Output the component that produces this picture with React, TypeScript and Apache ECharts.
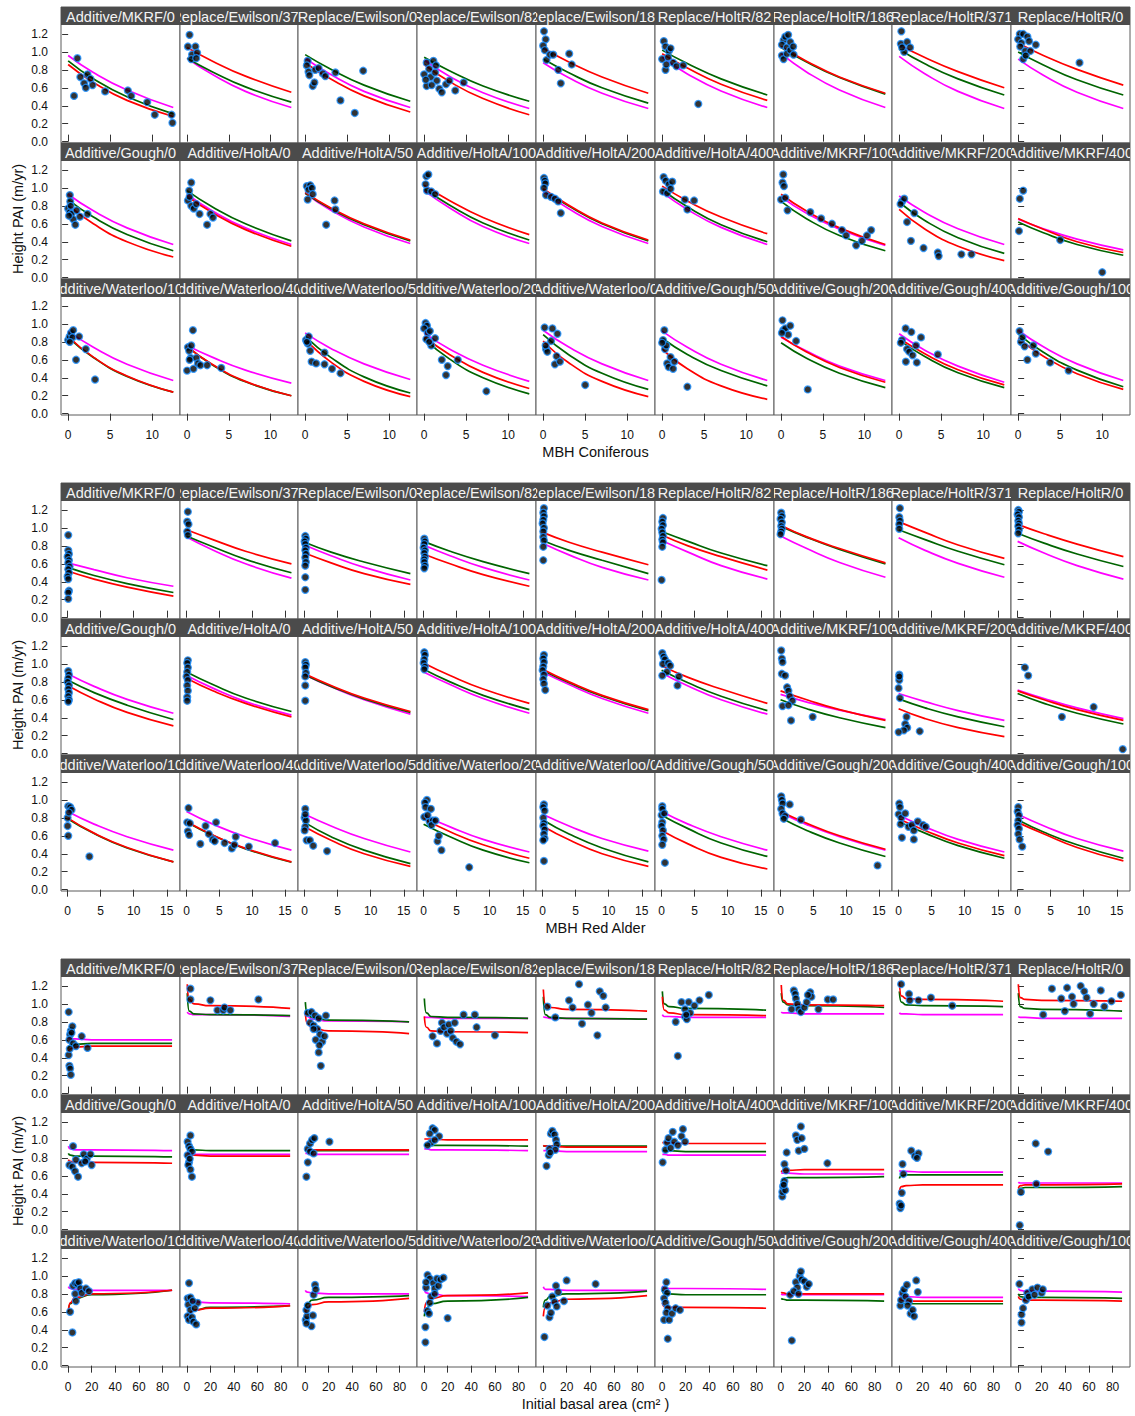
import React, { useEffect, useRef } from "react";
import * as echarts from "echarts";

// ---------------- DATA ----------------
const STRIP_LABELS = [
  "Additive/MKRF/0", "Replace/Ewilson/371", "Replace/Ewilson/0", "Replace/Ewilson/82", "Replace/Ewilson/186",
  "Replace/HoltR/82", "Replace/HoltR/186", "Replace/HoltR/371", "Replace/HoltR/0",
  "Additive/Gough/0", "Additive/HoltA/0", "Additive/HoltA/50", "Additive/HoltA/100", "Additive/HoltA/200",
  "Additive/HoltA/400", "Additive/MKRF/100", "Additive/MKRF/200", "Additive/MKRF/400",
  "Additive/Waterloo/100", "Additive/Waterloo/400", "Additive/Waterloo/50", "Additive/Waterloo/200",
  "Additive/Waterloo/0", "Additive/Gough/50", "Additive/Gough/200", "Additive/Gough/400", "Additive/Gough/100",
];

const X_TITLES = ["MBH Coniferous", "MBH Red Alder", "Initial basal area (cm\u00B2 )"];
const Y_TITLE = "Height PAI (m/yr)";
const Y_TICKS = [0, 0.2, 0.4, 0.6, 0.8, 1.0, 1.2];
const X_TICKS_CONIF = [0, 5, 10];
const X_TICKS_ALDER = [0, 5, 10, 15];
const X_TICKS_BASAL = [0, 20, 40, 60, 80];

const CURVE_X_CONIF = [0, 3, 7, 12.5];
const CURVE_X_ALDER = [0, 4, 9, 16];
const CURVE_X_BASAL = [0.3, 2, 6, 20, 88];

// --- MBH Coniferous ---
const POINTS_CONIF = [
  [[0.7,0.51],[1.1,0.93],[1.45,0.72],[1.9,0.65],[2.1,0.6],[2.3,0.75],[2.65,0.7],[2.9,0.63],[4.4,0.56],[7.1,0.57],[7.5,0.51],[9.4,0.44],[10.3,0.3],[12.3,0.3],[12.4,0.21]],
  [[0.3,1.19],[0.1,1.06],[0.6,0.97],[0.5,0.92],[1.0,1.06],[1.2,0.99],[1.1,0.93]],
  [[0.3,0.9],[0.2,0.85],[0.4,0.78],[0.5,0.74],[0.9,0.62],[1.1,0.66],[1.2,0.8],[1.6,0.82],[2.1,0.76],[2.4,0.73],[3.6,0.77],[4.2,0.46],[5.9,0.32],[6.9,0.79]],
  [[0.3,0.88],[0.0,0.75],[0.3,0.62],[0.6,0.81],[0.8,0.72],[1.1,0.9],[1.3,0.77],[1.4,0.85],[1.5,0.68],[1.8,0.59],[2.1,0.55],[2.6,0.64],[3.0,0.68],[3.7,0.57],[4.7,0.66],[0.2,0.69],[0.9,0.63]],
  [[0.1,1.23],[0.3,1.14],[0.0,1.07],[0.2,1.02],[0.4,0.91],[0.8,0.97],[1.2,0.97],[1.8,0.8],[2.1,0.65],[3.1,0.98],[3.4,0.86]],
  [[0.2,1.12],[0.4,1.06],[0.8,1.01],[1.0,1.04],[0.0,0.92],[0.4,0.8],[0.7,0.94],[1.3,0.88],[1.7,0.84],[2.5,0.85],[4.3,0.42],[0.5,0.86]],
  [[0.3,1.13],[0.5,1.17],[0.85,1.19],[0.1,1.08],[0.7,1.05],[1.1,1.11],[0.1,0.96],[0.3,0.92],[0.7,0.98],[1.1,1.02],[1.45,1.06],[1.5,0.97]],
  [[0.26,1.23],[0.2,1.09],[0.6,1.0],[0.95,1.11],[1.3,1.05],[0.35,1.05]],
  [[0.2,1.2],[0.6,1.2],[1.1,1.17],[0.0,1.14],[0.4,1.1],[1.3,1.12],[0.25,1.06],[0.85,1.01],[1.45,1.01],[2.1,1.08],[0.6,0.92],[0.9,0.96],[7.3,0.88]],
  [[0.2,0.92],[0.25,0.85],[0.0,0.77],[0.2,0.73],[0.4,0.71],[0.6,0.65],[0.85,0.59],[1.0,0.75],[1.4,0.68],[2.3,0.71],[0.3,0.8],[0.1,0.69]],
  [[0.5,1.06],[0.25,0.97],[0.1,0.86],[0.5,0.8],[0.8,0.77],[1.1,0.82],[1.5,0.71],[2.4,0.59],[2.8,0.71],[3.1,0.67],[0.3,0.9]],
  [[0.2,1.02],[0.6,1.03],[0.4,0.98],[0.8,1.0],[0.3,0.87],[0.9,0.93],[2.5,0.59],[3.5,0.86],[3.6,0.76]],
  [[0.26,1.13],[0.5,1.15],[0.17,1.04],[0.34,0.97],[0.85,0.96],[1.3,0.93]],
  [[0.1,1.11],[0.2,1.08],[0.26,1.05],[0.1,1.0],[0.34,0.92],[0.94,0.9],[1.4,0.88],[1.8,0.85],[2.1,0.72]],
  [[0.17,1.12],[0.43,1.08],[0.8,1.04],[1.2,1.07],[0.1,0.96],[0.6,0.94],[1.0,0.99],[2.7,0.87],[3.0,0.76],[3.8,0.86]],
  [[0.26,1.15],[0.17,1.06],[0.34,1.02],[0.0,0.87],[0.5,0.89],[0.77,0.75],[3.5,0.73],[4.8,0.66],[6.1,0.6],[7.3,0.53],[7.8,0.47],[9.0,0.36],[9.7,0.41],[10.3,0.47],[10.8,0.53]],
  [[0.34,0.85],[0.6,0.88],[0.17,0.82],[0.94,0.62],[1.4,0.41],[1.8,0.72],[2.9,0.33],[4.6,0.28],[4.7,0.24],[7.4,0.26],[8.6,0.26]],
  [[0.2,0.88],[0.6,0.97],[0.1,0.52],[5.0,0.42],[10.0,0.06]],
  [[0.0,0.82],[0.17,0.86],[0.34,0.9],[0.6,0.93],[0.5,0.85],[0.94,0.6],[1.3,0.86],[2.1,0.72],[3.2,0.38],[0.2,0.8]],
  [[0.7,0.93],[0.1,0.74],[0.25,0.7],[0.43,0.62],[0.0,0.48],[0.77,0.5],[1.1,0.62],[1.3,0.56],[1.6,0.54],[2.4,0.54],[4.1,0.51],[0.5,0.76],[0.3,0.6]],
  [[0.1,0.82],[0.43,0.86],[0.34,0.78],[0.6,0.7],[0.77,0.58],[1.3,0.56],[2.3,0.68],[2.3,0.55],[3.2,0.5],[4.2,0.45],[0.2,0.8]],
  [[0.17,1.01],[0.34,0.98],[0.0,0.95],[0.43,0.9],[0.68,0.92],[0.26,0.83],[0.85,0.76],[1.3,0.84],[2.1,0.6],[2.6,0.43],[2.8,0.53],[4.0,0.6],[7.4,0.25],[0.6,0.8]],
  [[0.17,0.96],[0.34,0.72],[0.5,0.69],[0.94,0.81],[1.1,0.95],[1.4,0.55],[1.6,0.64],[1.7,0.89],[2.0,0.58],[5.0,0.32],[0.3,0.76]],
  [[0.26,0.93],[0.1,0.82],[0.34,0.72],[0.6,0.56],[0.77,0.52],[1.0,0.63],[1.3,0.5],[1.45,0.58],[3.0,0.3],[0.5,0.76],[0.0,0.79]],
  [[0.17,1.04],[0.26,0.93],[0.5,0.95],[1.1,0.98],[0.85,0.88],[1.8,0.81],[3.2,0.27],[0.1,0.9]],
  [[0.77,0.95],[1.45,0.91],[0.34,0.82],[0.94,0.72],[1.2,0.69],[1.6,0.65],[2.1,0.57],[0.8,0.58],[2.0,0.76],[2.6,0.85],[4.6,0.66],[0.2,0.79]],
  [[0.17,0.92],[0.34,0.8],[0.77,0.75],[1.1,0.6],[1.8,0.76],[2.1,0.67],[3.8,0.57],[6.0,0.48],[0.5,0.85]],
];
const RED_CONIF = [
  [0.86,0.66,0.46,0.28],[1.05,0.90,0.73,0.55],[0.88,0.70,0.51,0.33],[0.86,0.67,0.48,0.30],[1.04,0.89,0.72,0.54],
  [0.98,0.82,0.64,0.46],[1.06,0.90,0.72,0.54],[1.08,0.94,0.78,0.60],[1.10,0.96,0.805,0.63],
  [0.81,0.60,0.40,0.23],[0.91,0.725,0.535,0.35],[0.95,0.78,0.60,0.42],[1.03,0.86,0.67,0.48],[0.99,0.81,0.61,0.42],
  [1.02,0.855,0.675,0.49],[0.93,0.745,0.555,0.37],[0.76,0.545,0.35,0.19],[0.66,0.54,0.40,0.28],
  [0.86,0.63,0.42,0.24],[0.75,0.55,0.36,0.20],[0.83,0.58,0.36,0.19],[0.86,0.66,0.46,0.28],[0.81,0.57,0.36,0.19],
  [0.72,0.50,0.31,0.16],[0.86,0.69,0.515,0.35],[0.84,0.67,0.49,0.32],[0.84,0.64,0.445,0.27],
];
const GREEN_CONIF = [
  [0.90,0.70,0.50,0.31],[0.93,0.78,0.61,0.44],[0.97,0.81,0.63,0.45],[0.94,0.79,0.62,0.45],[0.92,0.77,0.60,0.43],
  [1.02,0.87,0.70,0.52],[1.05,0.89,0.715,0.53],[1.03,0.87,0.70,0.52],[1.00,0.855,0.69,0.52],
  [0.87,0.675,0.48,0.30],[0.97,0.79,0.60,0.41],[0.94,0.77,0.59,0.41],[0.99,0.81,0.61,0.42],[0.98,0.80,0.60,0.41],
  [0.98,0.79,0.59,0.40],[0.85,0.66,0.47,0.30],[0.84,0.64,0.445,0.27],[0.62,0.50,0.37,0.25],
  [0.85,0.625,0.415,0.24],[0.75,0.545,0.355,0.20],[0.86,0.63,0.41,0.23],[0.84,0.61,0.40,0.22],[0.88,0.66,0.45,0.27],
  [0.84,0.66,0.48,0.31],[0.79,0.62,0.45,0.29],[0.82,0.64,0.455,0.29],[0.89,0.685,0.485,0.30],
];
const MAGENTA_CONIF = [
  [0.96,0.77,0.575,0.38],[0.93,0.75,0.56,0.38],[0.93,0.75,0.56,0.38],[0.91,0.73,0.545,0.37],[0.88,0.715,0.54,0.37],
  [0.94,0.755,0.565,0.38],[0.98,0.78,0.576,0.38],[0.95,0.76,0.56,0.37],[0.92,0.74,0.55,0.37],
  [0.93,0.745,0.555,0.37],[0.93,0.745,0.555,0.37],[0.94,0.755,0.565,0.38],[0.97,0.78,0.57,0.38],[0.96,0.77,0.57,0.38],
  [0.95,0.76,0.56,0.37],[0.90,0.72,0.54,0.36],[0.91,0.73,0.545,0.37],[0.65,0.545,0.43,0.31],
  [0.92,0.74,0.55,0.37],[0.76,0.63,0.485,0.34],[0.90,0.73,0.555,0.38],[0.90,0.72,0.54,0.36],[0.93,0.745,0.555,0.37],
  [0.92,0.74,0.55,0.37],[0.85,0.70,0.53,0.37],[0.89,0.71,0.53,0.35],[0.93,0.745,0.555,0.37],
];

// --- MBH Red Alder ---
const POINTS_ALDER = [
  [[0.1,0.92],[0.1,0.75],[0.2,0.71],[0.0,0.68],[0.2,0.64],[0.1,0.61],[0.3,0.57],[0.1,0.54],[0.2,0.5],[0.0,0.46],[0.1,0.43],[0.2,0.3],[0.1,0.28],[0.1,0.21]],
  [[0.2,1.18],[0.1,1.07],[0.3,1.04],[0.1,0.96],[0.2,0.92]],
  [[0.1,0.91],[0.2,0.88],[0.0,0.85],[0.1,0.82],[0.2,0.78],[0.1,0.75],[0.2,0.71],[0.1,0.67],[0.2,0.62],[0.1,0.58],[0.1,0.45],[0.1,0.31]],
  [[0.1,0.88],[0.2,0.85],[0.1,0.82],[0.0,0.78],[0.2,0.75],[0.1,0.72],[0.2,0.68],[0.1,0.65],[0.1,0.62],[0.2,0.58],[0.1,0.55]],
  [[0.2,1.22],[0.1,1.17],[0.2,1.13],[0.1,1.09],[0.0,1.05],[0.2,1.0],[0.1,0.96],[0.1,0.9],[0.2,0.86],[0.1,0.79],[0.1,0.64]],
  [[0.2,1.11],[0.1,1.07],[0.2,1.03],[0.0,0.99],[0.1,0.95],[0.2,0.91],[0.1,0.87],[0.2,0.84],[0.1,0.79],[0.0,0.42]],
  [[0.1,1.17],[0.2,1.13],[0.0,1.1],[0.2,1.06],[0.1,1.02],[0.2,0.99],[0.1,0.96],[0.0,0.93]],
  [[0.2,1.22],[0.1,1.12],[0.2,1.08],[0.1,1.04],[0.1,0.99]],
  [[0.1,1.2],[0.2,1.18],[0.0,1.15],[0.2,1.12],[0.1,1.08],[0.2,1.05],[0.1,1.02],[0.2,0.98],[0.1,0.94]],
  [[0.1,0.92],[0.2,0.88],[0.1,0.84],[0.0,0.8],[0.2,0.76],[0.1,0.72],[0.2,0.68],[0.1,0.64],[0.2,0.6],[0.1,0.58]],
  [[0.2,1.04],[0.1,1.01],[0.2,0.96],[0.1,0.91],[0.0,0.86],[0.2,0.82],[0.1,0.76],[0.2,0.7],[0.1,0.63],[0.1,0.59]],
  [[0.1,1.02],[0.2,0.99],[0.1,0.96],[0.2,0.9],[0.1,0.86],[0.1,0.76],[0.1,0.59]],
  [[0.1,1.13],[0.2,1.1],[0.1,1.05],[0.0,1.01],[0.2,0.97],[0.1,0.94]],
  [[0.2,1.1],[0.1,1.06],[0.2,1.02],[0.1,0.97],[0.0,0.93],[0.2,0.88],[0.1,0.83],[0.2,0.78],[0.4,0.71]],
  [[0.1,1.12],[0.3,1.08],[0.5,1.05],[0.2,1.0],[1.0,1.01],[1.3,0.98],[0.8,0.91],[0.1,0.87],[2.6,0.86],[2.4,0.76]],
  [[0.1,1.15],[0.2,1.06],[0.3,1.02],[0.2,0.89],[0.7,0.87],[1.0,0.74],[1.2,0.7],[1.4,0.64],[1.8,0.59],[0.3,0.53],[1.2,0.54],[1.6,0.37],[4.9,0.41]],
  [[0.1,0.88],[0.1,0.82],[0.0,0.73],[0.2,0.62],[1.2,0.41],[1.0,0.33],[1.3,0.29],[0.8,0.26],[0.0,0.24],[3.2,0.25],[0.1,0.86]],
  [[1.1,0.96],[1.6,0.87],[6.7,0.41],[11.5,0.52],[15.9,0.05]],
  [[0.1,0.93],[0.4,0.92],[0.6,0.89],[0.0,0.8],[0.2,0.86],[0.0,0.71],[0.1,0.6],[3.3,0.37]],
  [[0.3,0.91],[0.1,0.75],[0.5,0.74],[0.2,0.65],[0.4,0.61],[2.1,0.51],[2.9,0.71],[3.4,0.62],[4.0,0.56],[4.3,0.54],[4.5,0.75],[5.8,0.52],[6.9,0.46],[7.3,0.5],[7.5,0.59],[9.5,0.48],[13.5,0.52]],
  [[0.1,0.9],[0.0,0.8],[0.2,0.77],[0.1,0.7],[0.0,0.66],[0.3,0.55],[0.8,0.55],[1.3,0.49],[3.4,0.43],[0.1,0.84]],
  [[0.5,1.0],[0.2,0.97],[0.3,0.92],[1.1,0.9],[0.1,0.81],[0.9,0.76],[1.4,0.77],[1.2,0.72],[2.1,0.54],[2.3,0.6],[2.7,0.44],[1.8,0.77],[6.9,0.25],[0.6,0.83]],
  [[0.2,0.95],[0.1,0.92],[0.3,0.88],[0.1,0.8],[0.2,0.74],[0.1,0.71],[0.3,0.67],[0.2,0.62],[0.3,0.57],[0.1,0.55],[0.2,0.32]],
  [[0.1,0.93],[0.1,0.9],[0.0,0.83],[0.1,0.75],[0.0,0.71],[0.2,0.66],[0.1,0.6],[0.3,0.56],[0.1,0.5],[0.5,0.3],[0.4,0.85]],
  [[0.1,1.04],[0.2,1.0],[0.3,0.96],[0.1,0.9],[0.3,0.85],[0.7,0.82],[0.5,0.79],[1.4,0.95],[3.1,0.78],[14.8,0.27]],
  [[0.1,0.96],[0.2,0.92],[0.0,0.84],[0.4,0.8],[1.0,0.85],[0.3,0.73],[0.5,0.58],[1.5,0.7],[2.0,0.72],[2.3,0.56],[2.9,0.76],[3.7,0.72],[4.1,0.7],[2.3,0.66]],
  [[0.1,0.92],[0.0,0.87],[0.2,0.83],[0.1,0.77],[0.0,0.72],[0.2,0.68],[0.1,0.62],[0.3,0.56],[0.7,0.48]],
];
const RED_ALDER = [
  [0.52,0.43,0.34,0.24],[0.98,0.87,0.74,0.60],[0.72,0.61,0.49,0.37],[0.71,0.60,0.48,0.35],[0.95,0.84,0.73,0.59],
  [0.92,0.80,0.68,0.53],[1.03,0.90,0.77,0.61],[1.07,0.95,0.81,0.66],[1.04,0.935,0.82,0.68],
  [0.76,0.61,0.46,0.31],[0.84,0.70,0.56,0.41],[0.89,0.76,0.62,0.47],[1.01,0.87,0.72,0.56],[0.94,0.80,0.65,0.49],
  [0.98,0.85,0.72,0.56],[0.70,0.60,0.49,0.37],[0.50,0.39,0.29,0.19],[0.70,0.60,0.49,0.37],
  [0.80,0.63,0.47,0.31],[0.76,0.61,0.46,0.31],[0.70,0.55,0.40,0.26],[0.79,0.645,0.50,0.35],[0.71,0.555,0.40,0.26],
  [0.66,0.51,0.36,0.23],[0.87,0.74,0.60,0.45],[0.79,0.66,0.52,0.38],[0.75,0.62,0.47,0.32],
];
const GREEN_ALDER = [
  [0.56,0.47,0.38,0.28],[0.91,0.79,0.65,0.50],[0.84,0.73,0.62,0.49],[0.85,0.74,0.625,0.49],[0.86,0.75,0.64,0.49],
  [0.96,0.85,0.72,0.58],[1.02,0.895,0.76,0.60],[0.98,0.87,0.74,0.59],[0.94,0.83,0.71,0.57],
  [0.82,0.68,0.54,0.38],[0.91,0.77,0.62,0.47],[0.88,0.75,0.61,0.46],[0.94,0.80,0.65,0.49],[0.93,0.79,0.64,0.48],
  [0.93,0.79,0.64,0.48],[0.60,0.50,0.40,0.29],[0.61,0.51,0.41,0.30],[0.67,0.56,0.45,0.33],
  [0.79,0.625,0.465,0.31],[0.755,0.605,0.455,0.305],[0.75,0.59,0.44,0.29],[0.73,0.59,0.44,0.30],[0.78,0.62,0.465,0.31],
  [0.83,0.68,0.52,0.37],[0.80,0.66,0.52,0.37],[0.76,0.63,0.49,0.35],[0.78,0.64,0.50,0.35],
];
const MAGENTA_ALDER = [
  [0.61,0.535,0.445,0.35],[0.90,0.755,0.60,0.44],[0.81,0.69,0.56,0.42],[0.81,0.69,0.56,0.42],[0.83,0.70,0.56,0.42],
  [0.86,0.73,0.58,0.43],[0.91,0.77,0.615,0.45],[0.89,0.75,0.605,0.45],[0.85,0.72,0.58,0.43],
  [0.89,0.75,0.605,0.45],[0.87,0.73,0.58,0.43],[0.88,0.745,0.60,0.44],[0.91,0.77,0.615,0.45],[0.91,0.77,0.615,0.45],
  [0.90,0.755,0.60,0.44],[0.66,0.575,0.485,0.38],[0.67,0.58,0.48,0.37],[0.71,0.615,0.51,0.39],
  [0.87,0.73,0.59,0.44],[0.87,0.73,0.59,0.44],[0.84,0.71,0.57,0.42],[0.83,0.70,0.56,0.42],[0.84,0.71,0.57,0.43],
  [0.87,0.73,0.59,0.44],[0.86,0.725,0.59,0.44],[0.83,0.70,0.56,0.42],[0.84,0.71,0.57,0.43],
];

// --- Initial basal area ---
const POINTS_BASAL = [
  [[0.6,0.91],[2.4,0.7],[3.7,0.75],[1.8,0.66],[1.2,0.6],[0.6,0.43],[1.2,0.31],[1.8,0.28],[2.4,0.21],[11.6,0.64],[16.5,0.51],[4.3,0.56],[6.7,0.53],[3.0,0.68],[1.5,0.5]],
  [[3.0,1.17],[3.0,1.05],[20,1.04],[26,0.93],[31,0.93],[32,0.96],[37,0.93],[61,1.05]],
  [[2.4,0.9],[5.5,0.91],[8.5,0.87],[11.6,0.84],[4.3,0.79],[7.3,0.76],[10.4,0.72],[12.8,0.66],[9.1,0.6],[14.6,0.58],[16.5,0.64],[12.2,0.54],[11.6,0.46],[13.4,0.31],[17.7,0.87],[7.3,0.72]],
  [[7.3,0.64],[11,0.56],[14,0.7],[15.2,0.79],[17,0.74],[19.5,0.67],[21,0.77],[22.6,0.7],[24.4,0.62],[26,0.79],[27.4,0.58],[30.5,0.55],[33.5,0.88],[43,0.88],[44.5,0.74],[60,0.65]],
  [[3.7,0.97],[10.4,0.85],[22,1.04],[25,0.96],[30.5,1.22],[33,0.78],[38,0.99],[41,0.9],[46,0.65],[48,1.14],[51,1.09],[53,0.96]],
  [[11.6,0.8],[13.4,0.42],[16.5,1.02],[19.5,0.94],[19.5,0.86],[21,0.83],[22.6,1.02],[23.8,0.9],[27.4,0.98],[31.7,1.04],[39.6,1.1],[20.5,0.88]],
  [[9.1,0.94],[11,1.15],[12.2,1.11],[12.8,1.06],[14,1.0],[15.2,0.94],[17,0.91],[20,0.96],[22,1.02],[25,1.13],[26,1.08],[32,0.94],[40,1.05],[44.5,1.05],[23,1.1]],
  [[1.8,1.22],[8.5,1.11],[9.1,1.04],[16.5,1.04],[27,1.07],[45,0.98]],
  [[21.3,0.88],[28.7,1.17],[36.6,1.06],[39.6,0.92],[41.5,1.18],[45.7,1.08],[47,1.0],[53,1.2],[56,1.14],[58,1.07],[61,0.89],[64,1.0],[70,1.15],[73,0.97],[79,1.03],[87,1.1]],
  [[4.3,0.93],[1.2,0.72],[3.7,0.7],[6,0.65],[8.5,0.59],[6.7,0.78],[11.6,0.74],[13.4,0.84],[15.9,0.79],[19,0.84],[20,0.72],[14.6,0.76]],
  [[0.6,0.98],[3.0,1.05],[1.8,0.93],[3.0,0.9],[4.3,0.87],[0.6,0.83],[1.8,0.75],[1.2,0.72],[3.0,0.67],[4.3,0.59],[2.4,0.79]],
  [[1.2,0.59],[2.4,0.75],[2.4,0.9],[4.3,0.96],[6,1.0],[7.9,1.02],[4.3,0.87],[20.7,0.98],[7.3,0.85]],
  [[7.3,1.13],[9.1,1.11],[4.9,1.07],[12.8,1.04],[6.1,0.97],[3.0,0.94],[9.1,1.0]],
  [[3.0,0.71],[4.9,0.83],[5.5,0.9],[6.7,1.07],[7.9,1.1],[9.8,1.06],[11,1.0],[11.6,0.95],[10.4,0.89],[6.1,0.86]],
  [[0.6,0.75],[3.0,0.89],[4.3,0.97],[5.5,1.02],[9.1,1.09],[10.4,0.98],[13.4,0.94],[16.5,1.04],[17.7,1.12],[19.5,0.98],[7.3,0.91]],
  [[1.2,0.37],[1.2,0.42],[1.8,0.48],[3.0,0.54],[3.0,0.73],[4.3,0.66],[4.9,0.86],[12.8,1.05],[14,1.0],[15.2,0.88],[17,1.15],[17.7,1.02],[20,0.9],[39.6,0.74],[3.7,0.44],[2.4,0.5]],
  [[1.2,0.24],[0.6,0.29],[2.4,0.41],[3.7,0.62],[3.0,0.73],[10.4,0.88],[13.4,0.82],[16.5,0.85],[15.2,0.8],[1.8,0.27]],
  [[1.5,0.05],[2.5,0.42],[15,0.96],[15.5,0.51],[25.5,0.87]],
  [[1.8,0.6],[3.7,0.37],[4.3,0.89],[6.1,0.92],[7.9,0.91],[9.1,0.93],[6.1,0.8],[6.7,0.72],[10.4,0.86],[11.6,0.81],[15.2,0.86],[17.7,0.83]],
  [[1.8,0.92],[0.6,0.75],[3.0,0.76],[1.2,0.68],[3.0,0.62],[0.6,0.55],[1.8,0.51],[4.3,0.54],[5.5,0.49],[7.9,0.46],[9.1,0.7],[6.7,0.64],[4.9,0.72]],
  [[0.6,0.51],[1.8,0.55],[1.2,0.62],[2.4,0.67],[5.5,0.44],[6.7,0.56],[7.3,0.79],[8.5,0.9],[9.1,0.85],[1.2,0.47]],
  [[1.2,0.26],[1.2,0.43],[3.0,0.61],[4.3,0.58],[1.8,0.87],[3.0,1.01],[4.9,0.97],[1.8,0.93],[7.9,0.92],[9.1,0.86],[11,0.97],[12.2,0.89],[14,0.96],[16.5,0.98],[20,0.53],[6.1,0.77],[4.9,0.7],[9.1,0.8]],
  [[1.2,0.32],[3.7,0.67],[5.5,0.54],[6.7,0.59],[7.9,0.77],[9.8,0.71],[11,0.89],[12.8,0.82],[17.7,0.72],[20,0.95],[44.5,0.91],[11.6,0.66]],
  [[3.7,0.93],[2.4,0.85],[4.3,0.81],[1.8,0.75],[3.0,0.7],[4.9,0.64],[3.7,0.59],[1.8,0.51],[6.1,0.51],[8.5,0.58],[11.6,0.64],[4.9,0.3],[15.2,0.62]],
  [[9.3,0.28],[7.9,0.79],[12.8,0.93],[14,0.87],[15.9,1.0],[17,1.05],[17.7,0.96],[20,0.94],[22,0.88],[23.8,0.91],[11,0.83],[15,0.8]],
  [[1.2,0.67],[1.8,0.73],[3.0,0.81],[4.3,0.85],[5.5,0.77],[6.7,0.9],[8.5,0.72],[7.3,0.67],[9.8,0.58],[11.6,0.62],[12.8,0.55],[14.6,0.95],[15.9,0.82]],
  [[1.2,0.91],[3.0,0.48],[3.0,0.57],[4.3,0.64],[6.7,0.73],[7.9,0.81],[9.1,0.77],[12.2,0.85],[14,0.79],[16.5,0.87],[20,0.81],[21,0.85]],
];
const RED_BASAL = [
  [0.47,0.5,0.52,0.53,0.53],[1.22,1.05,1.0,0.98,0.95],[0.9,0.78,0.73,0.7,0.67],[0.86,0.74,0.7,0.69,0.68],[1.16,1.0,0.96,0.94,0.92],
  [1.08,0.93,0.9,0.88,0.87],[1.21,1.04,1.0,0.99,0.98],[1.25,1.09,1.06,1.05,1.03],[1.22,1.07,1.05,1.04,1.03],
  [0.78,0.76,0.75,0.75,0.74],[0.82,0.83,0.83,0.82,0.82],[0.88,0.89,0.89,0.89,0.89],[1.01,1.01,1.01,1.0,1.0],[0.94,0.93,0.93,0.92,0.92],
  [0.97,0.97,0.97,0.96,0.96],[0.64,0.66,0.66,0.67,0.67],[0.42,0.48,0.49,0.5,0.5],[0.46,0.49,0.5,0.5,0.51],
  [0.61,0.7,0.76,0.8,0.84],[0.5,0.58,0.62,0.64,0.67],[0.58,0.64,0.68,0.71,0.75],[0.6,0.7,0.75,0.78,0.81],[0.55,0.65,0.7,0.74,0.78],
  [0.7,0.66,0.65,0.65,0.64],[0.82,0.81,0.8,0.8,0.8],[0.75,0.73,0.72,0.72,0.72],[0.77,0.74,0.73,0.73,0.72],
];
const GREEN_BASAL = [
  [0.5,0.54,0.55,0.56,0.56],[1.12,0.92,0.89,0.88,0.87],[1.02,0.89,0.85,0.82,0.8],[1.06,0.9,0.86,0.85,0.84],[1.08,0.88,0.85,0.84,0.83],
  [1.14,1.0,0.97,0.95,0.93],[1.12,1.02,0.99,0.98,0.96],[1.14,1.02,0.99,0.98,0.97],[1.12,0.97,0.95,0.94,0.92],
  [0.85,0.83,0.82,0.82,0.81],[0.88,0.89,0.89,0.88,0.88],[0.87,0.88,0.88,0.88,0.88],[0.95,0.94,0.94,0.94,0.93],[0.93,0.93,0.93,0.93,0.93],
  [0.88,0.88,0.88,0.87,0.87],[0.53,0.57,0.58,0.58,0.59],[0.57,0.6,0.61,0.61,0.61],[0.44,0.46,0.47,0.47,0.48],
  [0.6,0.69,0.75,0.79,0.84],[0.51,0.59,0.62,0.65,0.67],[0.64,0.69,0.73,0.76,0.78],[0.55,0.64,0.69,0.72,0.76],[0.65,0.73,0.77,0.8,0.83],
  [0.84,0.8,0.8,0.79,0.79],[0.75,0.74,0.73,0.73,0.72],[0.71,0.7,0.69,0.69,0.69],[0.8,0.77,0.76,0.76,0.75],
];
const MAGENTA_BASAL = [
  [0.62,0.61,0.61,0.6,0.6],[0.91,0.89,0.88,0.88,0.86],[0.9,0.86,0.83,0.81,0.8],[0.86,0.85,0.85,0.84,0.84],[0.86,0.85,0.84,0.84,0.83],
  [0.88,0.86,0.86,0.85,0.85],[0.91,0.9,0.9,0.89,0.89],[0.9,0.89,0.89,0.88,0.88],[0.86,0.85,0.85,0.84,0.84],
  [0.93,0.9,0.89,0.89,0.88],[0.86,0.85,0.84,0.84,0.84],[0.85,0.85,0.84,0.84,0.84],[0.9,0.9,0.89,0.89,0.88],[0.88,0.88,0.88,0.87,0.87],
  [0.84,0.84,0.83,0.83,0.83],[0.63,0.63,0.63,0.62,0.62],[0.66,0.65,0.65,0.64,0.64],[0.53,0.52,0.52,0.52,0.52],
  [0.88,0.86,0.85,0.84,0.84],[0.74,0.72,0.71,0.7,0.69],[0.84,0.82,0.81,0.8,0.8],[0.86,0.81,0.8,0.78,0.77],[0.88,0.85,0.85,0.84,0.84],
  [0.89,0.86,0.86,0.86,0.85],[0.8,0.79,0.79,0.79,0.79],[0.8,0.77,0.77,0.76,0.76],[0.86,0.84,0.83,0.83,0.82],
];

// ---------------- LAYOUT / STYLE ----------------
const W = 1135;
const H = 1416;
const FONT = "'Liberation Sans', Arial, sans-serif";
const COL_EDGES = [61, 180, 298, 417, 536, 655, 774, 892, 1011, 1130];
const BLOCK_TOP = [7, 483, 959];
const ROW_H = 136;
const STRIP_H = 18;
const Y_MIN = -0.015;
const Y_MAX = 1.5006;
const RED = "#FF0000";
const GREEN = "#006400";
const MAGENTA = "#FF00FF";

const BLOCKS = [
  { points: POINTS_CONIF, red: RED_CONIF, green: GREEN_CONIF, magenta: MAGENTA_CONIF, curveX: CURVE_X_CONIF, ticks: X_TICKS_CONIF, xMin: -0.85, xMax: 13.3, mono: false },
  { points: POINTS_ALDER, red: RED_ALDER, green: GREEN_ALDER, magenta: MAGENTA_ALDER, curveX: CURVE_X_ALDER, ticks: X_TICKS_ALDER, xMin: -1.0, xMax: 17.0, mono: false },
  { points: POINTS_BASAL, red: RED_BASAL, green: GREEN_BASAL, magenta: MAGENTA_BASAL, curveX: CURVE_X_BASAL, ticks: X_TICKS_BASAL, xMin: -5.9, xMax: 94.7, mono: true },
];

function buildOption() {
  const grid: any[] = [];
  const xAxis: any[] = [];
  const yAxis: any[] = [];
  const series: any[] = [];
  const graphic: any[] = [];
  let gi = 0;

  BLOCKS.forEach((b, bi) => {
    for (let r = 0; r < 3; r++) {
      for (let c = 0; c < 9; c++) {
        const p = r * 9 + c;
        const left = COL_EDGES[c];
        const width = COL_EDGES[c + 1] - COL_EDGES[c];
        const top = BLOCK_TOP[bi] + r * ROW_H;
        grid.push({
          left, top, width, height: ROW_H,
          show: true, borderColor: "#5a5a5a", borderWidth: 1, backgroundColor: "#ffffff",
        });
        xAxis.push({
          gridIndex: gi, type: "value", min: b.xMin, max: b.xMax,
          position: r === 2 ? "bottom" : "top",
          show: r !== 1,
          axisLine: { show: false },
          splitLine: { show: false },
          axisTick: { show: true, inside: false, length: 7, customValues: b.ticks, lineStyle: { color: "#333", width: 1 } },
          axisLabel: { show: r === 2, customValues: b.ticks, margin: 14, fontSize: 12, color: "#111", fontFamily: FONT },
        });
        yAxis.push({
          gridIndex: gi, type: "value", min: Y_MIN, max: Y_MAX,
          position: c === 8 ? "right" : "left",
          show: c === 0 || c === 8,
          axisLine: { show: false },
          splitLine: { show: false },
          axisTick: { show: true, inside: false, length: 6, customValues: Y_TICKS, lineStyle: { color: "#333", width: 1 } },
          axisLabel: {
            show: c === 0, customValues: Y_TICKS, margin: 13, fontSize: 12, color: "#111", fontFamily: FONT,
            formatter: (v: number) => v.toFixed(1),
          },
        });

        const label = STRIP_LABELS[p];
        series.push({
          type: "custom", xAxisIndex: gi, yAxisIndex: gi, clip: true, silent: true, z: 3,
          data: [[0, 0]],
          renderItem: (params: any) => {
            const cs = params.coordSys;
            return {
              type: "group",
              children: [
                { type: "rect", shape: { x: cs.x, y: cs.y, width: cs.width, height: STRIP_H }, style: { fill: "#4b4b4b" } },
                {
                  type: "text", x: cs.x + cs.width / 2, y: cs.y + STRIP_H / 2 + 0.5,
                  style: {
                    text: label, fill: "#f4f4f4", fontSize: 14.5, fontFamily: FONT,
                    align: "center", verticalAlign: "middle", textAlign: "center", textVerticalAlign: "middle",
                  },
                },
              ],
            };
          },
        });

        const curves: [number[], string][] = [
          [b.magenta[p], MAGENTA],
          [b.green[p], GREEN],
          [b.red[p], RED],
        ];
        curves.forEach(([vals, color]) => {
          series.push({
            type: "line", xAxisIndex: gi, yAxisIndex: gi, silent: true, z: 2,
            data: b.curveX.map((x, i) => [x, vals[i]]),
            showSymbol: false, symbol: "none",
            smooth: b.mono ? 0.6 : 0.5,
            smoothMonotone: b.mono ? "x" : undefined,
            lineStyle: { color, width: 1.7 },
          });
        });

        series.push({
          type: "scatter", xAxisIndex: gi, yAxisIndex: gi, silent: true, z: 4,
          data: b.points[p],
          symbol: "circle", symbolSize: 7,
          itemStyle: { color: "#000000", borderColor: "#1E90FF", borderWidth: 1.3 },
        });
        gi++;
      }
    }

    const blockBottom = BLOCK_TOP[bi] + 3 * ROW_H;
    graphic.push({
      type: "text", x: 18, y: BLOCK_TOP[bi] + 212, rotation: Math.PI / 2,
      style: {
        text: Y_TITLE, fill: "#111", fontSize: 14.5, fontFamily: FONT,
        align: "center", verticalAlign: "middle", textAlign: "center", textVerticalAlign: "middle",
      },
    });
    graphic.push({
      type: "text", x: (COL_EDGES[0] + COL_EDGES[9]) / 2, y: blockBottom + 37,
      style: {
        text: X_TITLES[bi], fill: "#111", fontSize: 14.5, fontFamily: FONT,
        align: "center", verticalAlign: "middle", textAlign: "center", textVerticalAlign: "middle",
      },
    });
  });

  return {
    animation: false,
    backgroundColor: "#ffffff",
    grid, xAxis, yAxis, series, graphic,
  };
}

export default function App() {
  const ref = useRef<HTMLDivElement>(null);
  useEffect(() => {
    if (!ref.current) return;
    const chart = echarts.init(ref.current, null, { renderer: "svg", width: W, height: H });
    chart.setOption(buildOption() as any);
    return () => chart.dispose();
  }, []);
  return (
    <div
      ref={ref}
      style={{ position: "absolute", left: 0, top: 0, width: W, height: H, background: "#fff" }}
    />
  );
}
